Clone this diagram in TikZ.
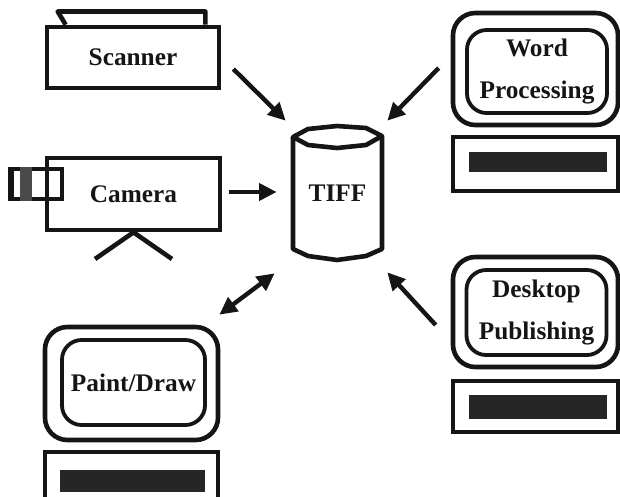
\documentclass[tikz,border=0pt]{standalone}
\usepackage{fontspec}
\setmainfont{Liberation Serif}
\usetikzlibrary{arrows.meta,positioning}
\definecolor{ink}{HTML}{151515}
\definecolor{keybarfill}{HTML}{262626}
\definecolor{lensfill}{HTML}{4A4A4A}
\tikzset{
  device/.style={
    draw=ink,
    line width=1.15mm,
    align=center,
    inner sep=0pt,
    font=\fontsize{18}{30}\selectfont\bfseries,
    text=ink,
  },
  monitor frame/.style={
    draw=ink,
    line width=1.15mm,
    rounded corners=16pt,
    minimum width=4.125cm,
    minimum height=2.8cm,
  },
  monitor screen/.style={
    device,
    line width=0.95mm,
    rounded corners=14pt,
    minimum width=3.5cm,
    minimum height=2.1cm,
  },
  keyboard/.style={
    draw=ink,
    line width=1mm,
    minimum width=4.125cm,
    minimum height=1.35cm,
  },
  keybar/.style={
    fill=keybarfill,
    minimum width=3.45cm,
    minimum height=0.5cm,
  },
  outline/.style={
    draw=ink,
    line width=1.15mm,
    line join=round,
  },
  flow/.style={
    -{Triangle[length=4.4mm,width=4.2mm]},
    line width=1.1mm,
    draw=ink,
  },
  both flow/.style={
    {Triangle[length=4.4mm,width=4.2mm]}-{Triangle[length=4.4mm,width=4.2mm]},
    line width=1.1mm,
    draw=ink,
  },
}

\begin{document}
\begin{tikzpicture}[x=0.025cm, y=-0.025cm]
  \useasboundingbox (0,0) rectangle (620,496);
  \clip (0,0) rectangle (620,496);

  % scanner with its lid
  \node[device, minimum width=4.3cm, minimum height=1.525cm] (scanner) at (133,57.5) {Scanner};
  \draw[outline] ([xshift=0.525cm]scanner.north west) -- ++(-0.2cm,0.33cm)
    -- ([xshift=-0.4cm, yshift=0.33cm]scanner.north east) -- ([xshift=-0.4cm]scanner.north east);

  % camera on a tripod
  \node[device, minimum width=4.325cm, minimum height=1.8cm, text depth=-0.2cm] (camera) at (133.5,194) {Camera};
  \node[draw=ink, line width=1.15mm, minimum width=1.3cm, minimum height=0.75cm] (lens) at (36,184) {};
  \fill[ink] (lens.north west) rectangle ([xshift=0.15cm]lens.south west);
  \fill[lensfill] ([xshift=0.32cm]lens.north west) rectangle ([xshift=0.62cm]lens.south west);
  \coordinate (leg left) at (95,259);
  \coordinate (leg right) at (172,259);
  \draw[outline] (leg left) -- (camera.south) -- (leg right);

  % TIFF store
  \node[device, draw=none, minimum width=2.225cm, minimum height=3.325cm] (tiff) at (337.5,193) {TIFF};
  \draw[outline] (293,137) -- (308,129) -- (337,126) -- (366,128) -- (382,136)
    -- (366,145) -- (337,148) -- (308,145) -- cycle;
  \draw[outline] (293,137) -- (293,249) -- (308,256) -- (337,260) -- (366,256) -- (382,249) -- (382,136);

  % word processing
  \node[monitor frame] (word frame) at (535.5,69) {};
  \node[monitor screen, minimum height=2.075cm] (word) at (537,71.5) {Word\\Processing};
  \node[keyboard, below=0.2cm of word frame] (word keys) {};
  \node[keybar] at ([xshift=1.5pt, yshift=2pt]word keys) {};

  % desktop publishing
  \node[monitor frame, minimum height=2.75cm] (desk frame) at (535.5,312) {};
  \node[monitor screen, minimum height=2.125cm] (desk) at (536.5,312.5) {Desktop\\Publishing};
  \node[keyboard, minimum height=1.275cm, below=0.25cm of desk frame] (desk keys) {};
  \node[keybar, minimum height=0.6cm] at ([xshift=1.5pt]desk keys) {};

  % paint/draw
  \node[monitor frame, minimum width=4.325cm, minimum height=2.825cm] (paint frame) at (131.5,383.5) {};
  \node[monitor screen, minimum width=3.575cm, minimum height=2.125cm] (paint) at (133.5,382.5) {Paint/Draw};
  \node[keyboard, minimum width=4.325cm, minimum height=1.45cm, below=0.2cm of paint frame] (paint keys) {};
  \node[keybar, minimum width=3.625cm, minimum height=0.55cm] at ([xshift=1pt]paint keys) {};

  % connectors
  \draw[flow] ([shift={(12,11.5)}]scanner.east) -- ([shift={(-5,-3.5)}]tiff.north west);
  \draw[flow] ([shift={(-12,-1)}]word frame.west) -- ([shift={(3,-3.5)}]tiff.north east);
  \draw[flow] ([shift={(7,-2)}]camera.east) -- ([shift={(-14,-1)}]tiff.west);
  \draw[both flow] ([shift={(-16,11.5)}]tiff.south west) -- ([shift={(-1,-10)}]paint frame.north east);
  \draw[flow] ([shift={(-15,13)}]desk frame.west) -- ([shift={(3,10.5)}]tiff.south east);
\end{tikzpicture}
\end{document}
